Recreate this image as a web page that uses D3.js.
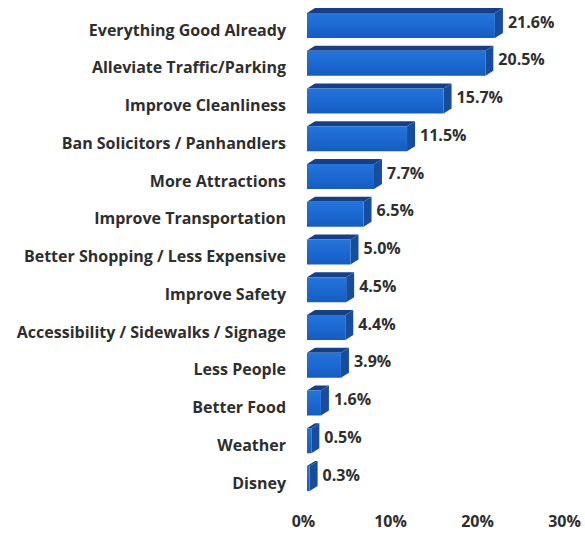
<!DOCTYPE html>
<html>
<head>
<meta charset="utf-8">
<script src="https://cdn.jsdelivr.net/npm/d3@7"></script>
<style>
  html, body { margin: 0; padding: 0; background: #ffffff; }
  svg { display: block; }
  text { font-family: "Open Sans", Lato, sans-serif; font-weight: 700; fill: #2e2e2e; }
</style>
</head>
<body>
<svg id="chart" width="585" height="536"></svg>
<script>
// Survey responses: what would improve the visit
const categories = [
  "Everything Good Already",
  "Alleviate Traffic/Parking",
  "Improve Cleanliness",
  "Ban Solicitors / Panhandlers",
  "More Attractions",
  "Improve Transportation",
  "Better Shopping / Less Expensive",
  "Improve Safety",
  "Accessibility / Sidewalks / Signage",
  "Less People",
  "Better Food",
  "Weather",
  "Disney"
];
const shares = [21.6, 20.5, 15.7, 11.5, 7.7, 6.5, 5.0, 4.5, 4.4, 3.9, 1.6, 0.5, 0.3];
const tickValues = [0, 10, 20, 30];

const svg = d3.select("#chart");

const x = d3.scaleLinear().domain([0, 30]).range([303, 564]);
const y = d3.scalePoint().domain(categories).range([30, 483]);

// 3-D bar geometry: front face plus a receding top and right side
const frontShift = 4, frontUp = 17, frontDown = 8, depthX = 8, depthY = 5;

const rows = categories.map((c, i) => ({ cat: c, v: shares[i] }));

const defs = svg.append("defs");
const grad = defs.append("linearGradient")
  .attr("id", "frontGrad").attr("x1", 0).attr("y1", 0).attr("x2", 0).attr("y2", 1);
grad.append("stop").attr("offset", "0%").attr("stop-color", "#2574da");
grad.append("stop").attr("offset", "55%").attr("stop-color", "#1a68d0");
grad.append("stop").attr("offset", "100%").attr("stop-color", "#165cbf");

const bars = svg.append("g").selectAll("g").data(rows).join("g");

// top face
bars.append("path")
  .attr("fill", "#173f86")
  .attr("d", d => {
    const x0 = x(0) + frontShift, x1 = x(d.v) + frontShift, t = y(d.cat) - frontUp;
    return `M${x0},${t} L${x0 + depthX},${t - depthY} L${x1 + depthX},${t - depthY} L${x1},${t} Z`;
  });

// right side face
bars.append("path")
  .attr("fill", "#1a4c9c")
  .attr("d", d => {
    const x1 = x(d.v) + frontShift, t = y(d.cat) - frontUp, b = y(d.cat) + frontDown;
    return `M${x1},${t} L${x1 + depthX},${t - depthY} L${x1 + depthX},${b - depthY} L${x1},${b} Z`;
  });

// front face
bars.append("rect")
  .attr("x", x(0) + frontShift)
  .attr("y", d => y(d.cat) - frontUp)
  .attr("width", d => x(d.v) - x(0))
  .attr("height", frontUp + frontDown)
  .attr("fill", "url(#frontGrad)");

// value labels
bars.append("text")
  .attr("x", d => x(d.v) + frontShift + depthX + 5)
  .attr("y", d => y(d.cat) - 8)
  .attr("dy", "0.35em")
  .attr("font-size", 16)
  .text(d => d.v.toFixed(1) + "%");

// category labels
svg.append("g").selectAll("text").data(categories).join("text")
  .attr("x", 286)
  .attr("y", d => y(d))
  .attr("dy", "0.35em")
  .attr("text-anchor", "end")
  .attr("font-size", 16)
  .text(d => d);

// value axis
const axis = d3.axisBottom(x).tickValues(tickValues).tickFormat(d => d + "%").tickSize(0);
const gx = svg.append("g").attr("transform", "translate(0,513)").call(axis);
gx.select(".domain").remove();
gx.selectAll("text")
  .attr("font-size", 16)
  .style("font-family", "'Open Sans', Lato, sans-serif")
  .style("font-weight", 700)
  .attr("fill", "#2e2e2e");
</script>
</body>
</html>
